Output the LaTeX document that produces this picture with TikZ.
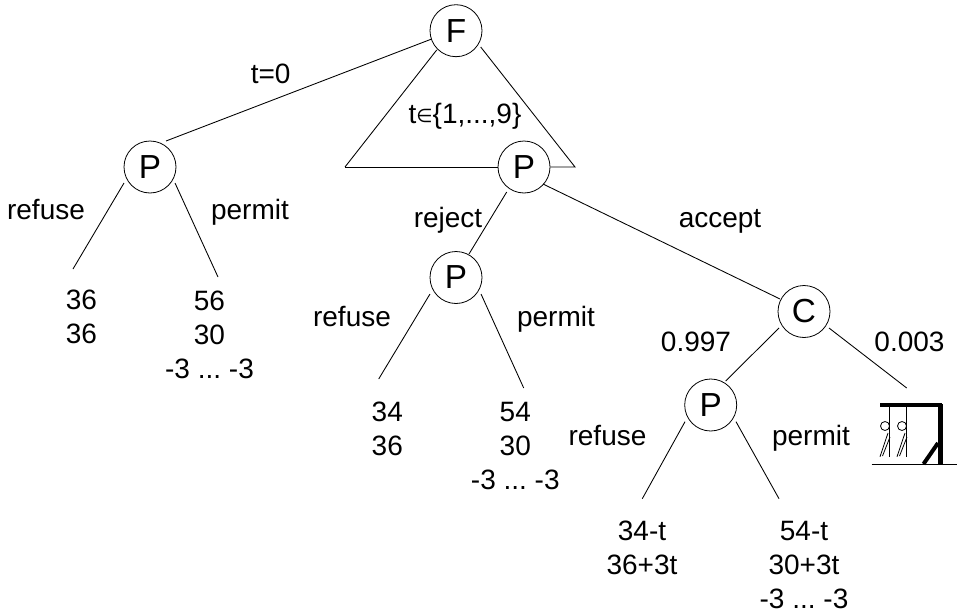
\documentclass[tikz,border=0pt]{standalone}
\usepackage{fontspec}
\setmainfont{Liberation Sans}
\begin{document}
\begin{tikzpicture}[x=0.75pt,y=-0.75pt,
  dec/.style={circle,draw,fill=white,line width=0.6pt,minimum size=39pt,inner sep=0pt,font=\fontsize{25}{25}\selectfont},
  lbl/.style={inner sep=0pt,font=\frenchspacing\fontsize{21}{25.5}\selectfont,align=center},
  one/.style={lbl,anchor=base},
  edge/.style={line width=0.65pt},
  thick1/.style={line width=3pt},
  thin1/.style={line width=0.6pt}]
\useasboundingbox (0,0) rectangle (957,614);
\coordinate (tl) at (345,167);
\coordinate (tr) at (575,167);
\coordinate (a1) at (73,269);
\coordinate (a2) at (218,277);
\coordinate (b1) at (378.7,379);
\coordinate (b2) at (523.7,388);
\coordinate (c1) at (642.3,498.7);
\coordinate (c2) at (779,498.7);
\coordinate (d) at (906.7,388);
\node[dec] (F) at (456,30.7) {F};
\node[dec] (P1) at (150,167) {P};
\node[dec] (P2) at (524,167) {P};
\node[dec] (P3) at (456,277.5) {P};
\node[dec] (C) at (804,311.5) {C};
\node[dec] (P4) at (710.7,405) {P};
\draw[edge] (tl) -- ([shift={(-19.3,19.3)}]F.center);
\draw[edge] ([shift={(24.7,16.3)}]F.center) -- (tr) -- (P2.east);
\draw[edge] (tl) -- (P2.west);
\draw[edge] ([shift={(-24.3,8.3)}]F.center) -- ([shift={(16,-26)}]P1.center);
\draw[edge] ([shift={(-17.3,25)}]P2.center) -- ([shift={(13,-23.5)}]P3.center);
\draw[edge] ([shift={(19,17)}]P2.center) -- ([shift={(-24,-12.5)}]C.center);
\draw[edge] ([shift={(-25,16.5)}]C.center) -- ([shift={(15,-24)}]P4.center);
\draw[edge] ([shift={(25,16.5)}]C.center) -- (d);
\draw[edge] ([shift={(-26,16)}]P1.center) -- (a1);
\draw[edge] ([shift={(25,16)}]P1.center) -- (a2);
\draw[edge] ([shift={(-26,16.5)}]P3.center) -- (b1);
\draw[edge] ([shift={(25,16.5)}]P3.center) -- (b2);
\draw[edge] ([shift={(-25.7,16.7)}]P4.center) -- (c1);
\draw[edge] ([shift={(25.3,16.7)}]P4.center) -- (c2);
\node[one] (t0) at (270.7,83) {t=0};
\node[one] (t1) at (465,123.3) {t{\fontsize{14}{14}\selectfont\raisebox{0.5pt}{\fontspec{DejaVu Sans}∈}}\{1,...,9\}};
\node[one] (r1) at (46,219.3) {refuse};
\node[one] (p1) at (250,219.3) {permit};
\node[one] (r3) at (352,326.7) {refuse};
\node[one] (p3) at (556,326.7) {permit};
\node[one] (r4) at (607.5,445) {refuse};
\node[one] (p4) at (811,445) {permit};
\node[one] (rj) at (448,227.3) {reject};
\node[one] (ac) at (720,227.3) {accept};
\node[one] (q1) at (696,351.7) {0.997};
\node[one] (q2) at (909.5,351.7) {0.003};
\node[lbl] (v1) at (81.5,317) {36\\36};
\node[lbl] (v2) at (209.5,334.5) {56\\30\\-3 ... -3};
\node[lbl] (v3) at (387.3,428.6) {34\\36};
\node[lbl] (v4) at (515.3,445.5) {54\\30\\-3 ... -3};
\node[lbl] (v5) at (642,547.7) {34-t\\36+3t};
\node[lbl] (v6) at (804,564.5) {54-t\\30+3t\\-3 ... -3};
% gallows
\draw[thick1] (880,405) -- (942,405);
\draw[line width=3.5pt] (940.7,404) -- (940.7,464);
\draw[line width=3pt] (923.5,464) -- (938,443);
\draw[thin1] (871.7,464) -- (957,464);
\draw[thin1] (889.3,406) -- (889.3,456.7);
\draw[thin1] (906.7,406) -- (906.7,456.7);
\foreach \x in {885,902}{
  \draw[thin1] (\x,426) circle (4.5);
  \draw[thin1] (\x+3,433) -- (\x-5,456.7);
  \draw[thin1] (\x+5,437) -- (\x-2.5,456);
}
\end{tikzpicture}
\end{document}
